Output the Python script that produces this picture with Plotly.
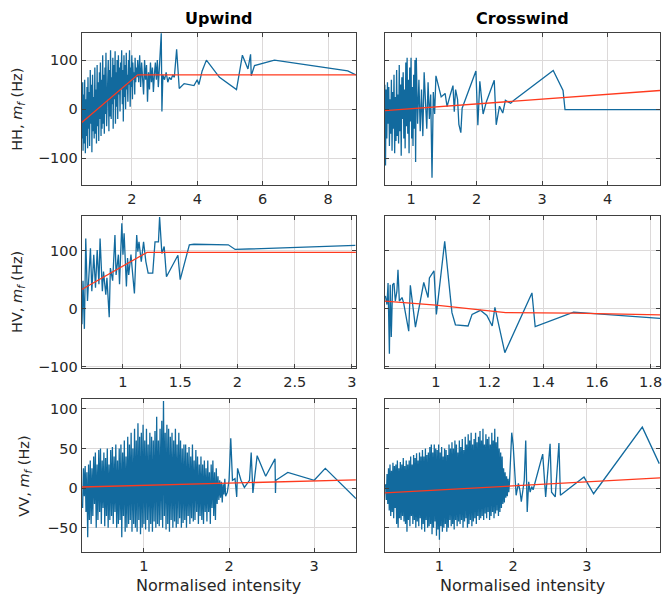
import plotly.graph_objects as go

# ---------------- DATA ----------------
# Row 1 (HH) - Upwind
hh_up_x = [0.47,0.48,0.50,0.51,0.53,0.55,0.56,0.58,0.60,0.61,0.63,0.65,0.66,0.68,0.70,0.71,0.73,0.75,0.77,0.78,
           0.80,0.82,0.83,0.85,0.87,0.89,0.90,0.92,0.94,0.95,0.97,0.99,1.01,1.02,1.04,1.06,1.07,1.09,1.11,1.13,
           1.14,1.16,1.18,1.19,1.21,1.23,1.25,1.26,1.28,1.30,1.31,1.33,1.35,1.37,1.38,1.40,1.42,1.43,1.45,1.47,
           1.49,1.50,1.52,1.54,1.55,1.57,1.59,1.61,1.62,1.64,1.66,1.67,1.69,1.71,1.73,1.74,1.76,1.78,1.79,1.81,
           1.83,1.85,1.86,1.88,1.90,1.91,1.93,1.95,1.97,1.98,2.00,2.02,2.03,2.05,2.07,2.09,2.10,2.12,2.14,2.16,
           2.18,2.21,2.24,2.27,2.30,2.33,2.36,2.39,2.42,2.45,2.48,2.51,2.54,2.57,2.60,2.63,2.66,2.69,2.72,2.75,
           2.78,2.81,2.84,2.87,2.90,2.92,2.95,3.00,3.05,3.10,3.15,3.20,3.25,3.30,3.37,3.45,3.60,3.90,4.00,4.05,
           4.15,4.28,4.68,5.20,5.38,5.55,5.63,5.65,5.75,6.36,8.30,8.60,8.85]
hh_up_y = [40,-60,55,-85,30,-70,60,-90,20,-55,45,-80,65,-40,35,-75,80,-30,50,-88,
           70,-45,25,-60,85,-50,40,-70,90,-35,55,-65,75,-20,95,-55,60,-40,110,-30,
           70,-50,85,-10,115,-35,60,0,100,-45,80,-15,120,-20,65,10,105,-40,90,20,
           118,-30,75,5,100,-20,110,30,85,-5,95,40,120,10,80,-25,110,25,90,0,
           115,40,70,15,100,50,120,5,85,45,110,20,95,60,75,30,105,55,85,65,
           100,55,110,45,95,70,30,100,60,90,15,75,40,95,55,85,35,70,95,60,
           100,45,80,100,155,-5,70,60,75,55,65,60,70,65,122,42,52,48,60,50,
           78,100,65,40,110,82,112,68,89,100,82,78,70]
hh_up_fit_x = [0.47, 2.18, 8.85]
hh_up_fit_y = [-27, 70, 70]

# Row 1 (HH) - Crosswind
hh_cr_x = [0.60,0.61,0.62,0.63,0.64,0.65,0.66,0.67,0.68,0.69,0.70,0.71,0.72,0.73,0.74,0.75,0.76,0.77,0.78,0.79,
           0.80,0.81,0.82,0.83,0.84,0.85,0.86,0.87,0.88,0.89,0.90,0.91,0.92,0.93,0.94,0.95,0.96,0.97,0.98,0.99,
           1.00,1.01,1.02,1.03,1.04,1.05,1.06,1.07,1.08,1.10,1.12,1.14,1.16,1.18,1.20,1.22,1.24,1.26,1.28,1.30,
           1.32,1.34,1.36,1.38,1.46,1.52,1.55,1.60,1.64,1.66,1.68,1.71,1.73,1.76,1.78,1.99,2.02,2.05,2.10,2.15,
           2.27,2.30,2.35,2.40,2.44,2.52,2.57,3.17,3.32,3.35,4.80]
hh_cr_y = [50,-115,40,-60,55,-30,45,-75,20,-50,60,-85,35,-40,70,-90,25,-65,80,-55,
           30,-70,90,-45,50,-95,65,-20,75,-60,40,-80,95,-35,105,-50,60,-90,85,-25,
           105,-60,45,-75,70,-40,100,-108,105,-30,60,-45,40,-55,75,10,-40,55,-20,30,
           -140,35,-10,68,25,32,5,30,48,-5,40,20,-31,-48,2,78,-33,57,-10,15,
           59,-32,6,-8,18,12,18,79,38,-1,-1]
hh_cr_fit_x = [0.60, 4.80]
hh_cr_fit_y = [-3, 38]

# Row 2 (HV) - Upwind
hv_up_x = [0.642,0.651,0.663,0.675,0.69,0.704,0.716,0.728,0.745,0.76,0.775,0.79,0.80,0.82,0.83,0.85,0.86,0.88,0.89,0.91,
           0.93,0.94,0.96,0.97,0.99,1.00,1.01,1.03,1.04,1.05,1.07,1.08,1.09,1.10,1.12,1.13,1.14,1.15,1.16,1.18,
           1.19,1.20,1.22,1.26,1.28,1.31,1.32,1.34,1.36,1.38,1.48,1.50,1.58,1.62,1.92,1.98,3.03]
hv_up_y = [-27,48,-35,121,13,61,104,30,93,36,101,42,121,30,64,24,53,-15,70,48,
           127,58,93,42,147,93,130,38,87,58,93,70,48,26,127,98,115,93,81,115,
           98,81,61,61,115,115,158,95,107,55,92,50,110,111,110,102,109]
hv_up_fit_x = [0.64, 1.21, 3.035]
hv_up_fit_y = [33, 97, 97]

# Row 2 (HV) - Crosswind
hv_cr_x = [0.812,0.818,0.822,0.827,0.830,0.834,0.839,0.844,0.849,0.855,0.859,0.864,0.874,0.880,0.899,0.905,0.924,0.955,0.971,0.976,
           0.993,1.002,1.033,1.060,1.073,1.120,1.135,1.166,1.190,1.210,1.220,1.257,1.358,1.370,1.513,1.835]
hv_cr_y = [22,7,44,-78,41,-49,41,44,13,30,67,13,19,10,-39,40,-32,45,19,53,
           65,-10,116,-7,-28,-30,-10,-3,-12,-30,2,-76,27,-31,-6,-17]
hv_cr_fit_x = [0.81, 1.00, 1.26, 1.51, 1.835]
hv_cr_fit_y = [13, 6, -7, -8, -11]

# Row 3 (VV) - Upwind
vv_up_x = [0.28,0.29,0.30,0.31,0.32,0.33,0.34,0.35,0.36,0.37,0.38,0.39,0.40,0.41,0.42,0.43,0.44,0.45,0.46,0.47,
           0.48,0.49,0.50,0.51,0.52,0.53,0.54,0.55,0.56,0.57,0.58,0.59,0.60,0.61,0.62,0.63,0.64,0.65,0.66,0.67,
           0.68,0.69,0.70,0.71,0.72,0.73,0.74,0.75,0.76,0.77,0.78,0.79,0.80,0.81,0.82,0.83,0.84,0.85,0.86,0.87,
           0.88,0.89,0.90,0.91,0.92,0.93,0.94,0.95,0.96,0.97,0.98,0.99,1.00,1.01,1.02,1.03,1.04,1.05,1.06,1.07,
           1.08,1.09,1.10,1.11,1.12,1.13,1.14,1.15,1.16,1.17,1.18,1.19,1.20,1.21,1.22,1.23,1.24,1.25,1.26,1.27,
           1.28,1.29,1.30,1.31,1.32,1.33,1.34,1.35,1.36,1.37,1.38,1.39,1.40,1.41,1.42,1.43,1.44,1.45,1.46,1.47,
           1.48,1.49,1.50,1.51,1.52,1.53,1.54,1.55,1.56,1.57,1.58,1.59,1.60,1.61,1.62,1.63,1.64,1.65,1.66,1.67,
           1.68,1.69,1.70,1.71,1.72,1.73,1.74,1.75,1.76,1.77,1.78,1.79,1.80,1.81,1.82,1.83,1.84,1.85,1.86,1.87,
           1.88,1.89,1.90,1.91,1.92,1.93,1.94,1.95,1.96,
           1.98,2.00,2.02,2.04,2.07,2.09,2.10,2.14,2.18,2.24,2.26,2.28,2.33,2.43,2.54,2.545,2.55,2.69,3.00,3.13,3.49]
vv_up_y = [-25,25,-10,28,-30,20,-62,30,-40,35,
           -45,25,-35,40,-20,45,-50,30,-40,48,
           -30,50,-45,35,-25,45,-48,38,-35,50,
           -50,30,-40,48,-35,52,-45,40,-30,55,
           -50,35,-45,50,-40,55,-62,45,-35,60,
           -55,40,-50,65,-45,55,-40,70,-55,50,
           -45,75,-50,60,-55,82,-40,65,-58,70,
           -50,80,-45,60,-52,75,-40,55,-55,70,
           -45,65,-55,60,-42,72,-50,90,-45,60,
           -48,75,-40,85,-50,110,-35,70,-52,80,
           -45,75,-55,65,-40,70,-50,60,-42,75,
           -50,55,-45,70,-38,60,-50,50,-44,55,
           -40,55,-50,45,-35,52,-45,40,-38,55,
           -42,35,-40,48,-30,40,-45,30,-35,40,
           -40,30,-45,35,-30,25,-42,35,-30,20,
           -45,30,-25,35,-35,20,-40,25,-20,15,
           -15,10,-12,8,-18,5,-8,12,-10,
           -5,10,63,10,12,-11,25,10,1,10,45,-6,41,15,37,-6,10,20,10,25,-13]
vv_up_fit_x = [0.27, 3.49]
vv_up_fit_y = [1.5, 10.5]

# Row 3 (VV) - Crosswind
vv_cr_x = [0.27,0.28,0.29,0.30,0.31,0.32,0.33,0.34,0.35,0.36,0.37,0.38,0.39,0.40,0.41,0.42,0.43,0.44,0.45,0.46,
           0.47,0.48,0.49,0.50,0.51,0.52,0.53,0.54,0.55,0.56,0.57,0.58,0.59,0.60,0.61,0.62,0.63,0.64,0.65,0.66,
           0.67,0.68,0.69,0.70,0.71,0.72,0.73,0.74,0.75,0.76,0.77,0.78,0.79,0.80,0.81,0.82,0.83,0.84,0.85,0.86,
           0.87,0.88,0.89,0.90,0.91,0.92,0.93,0.94,0.95,0.96,0.97,0.98,0.99,1.00,1.01,1.02,1.03,1.04,1.05,1.06,
           1.07,1.08,1.09,1.10,1.11,1.12,1.13,1.14,1.15,1.16,1.17,1.18,1.19,1.20,1.21,1.22,1.23,1.24,1.25,1.26,
           1.27,1.28,1.29,1.30,1.31,1.32,1.33,1.34,1.35,1.36,1.37,1.38,1.39,1.40,1.41,1.42,1.43,1.44,1.45,1.46,
           1.47,1.48,1.49,1.50,1.51,1.52,1.53,1.54,1.55,1.56,1.57,1.58,1.59,1.60,1.61,1.62,1.63,1.64,1.65,1.66,
           1.67,1.68,1.69,1.70,1.71,1.72,1.73,1.74,1.75,1.76,1.77,1.78,1.79,1.80,1.81,1.82,1.83,1.84,1.85,1.86,
           1.87,1.88,1.89,1.90,1.91,1.92,1.93,1.94,1.95,
           1.98,2.00,2.04,2.07,2.09,2.11,2.13,2.15,2.17,2.19,2.21,2.23,2.25,2.27,2.40,2.44,2.50,2.52,2.57,2.62,
           2.64,2.96,3.09,3.75,3.98]
vv_cr_y = [5,-15,18,-20,25,-28,30,-35,22,-30,
           32,-38,28,-25,30,-45,35,-50,25,-38,
           33,-40,30,-35,38,-42,28,-45,35,-55,
           30,-40,35,-48,40,-35,30,-45,42,-40,
           38,-50,44,-42,35,-48,45,-38,40,-52,
           48,-45,40,-55,50,-40,42,-50,45,-48,
           52,-45,55,-58,45,-50,55,-42,50,-60,
           48,-52,55,-65,45,-48,52,-55,40,-50,
           50,-45,48,-55,42,-50,55,-40,50,-48,
           58,-45,50,-52,60,-40,55,-48,45,-42,
           60,-45,52,-40,62,-50,48,-42,65,-38,
           55,-50,68,-45,60,-40,70,-48,55,-42,
           62,-38,70,-45,58,-35,65,-40,72,-38,
           60,-35,75,-40,55,-32,68,-38,62,-30,
           65,-40,55,-35,70,-30,60,-38,75,-32,
           58,-28,65,-35,50,-30,45,-25,40,-20,
           25,-18,20,-12,15,-10,12,-5,8,
           70,54,-9,6,-2,-17,-5,10,60,-30,8,-5,2,-2,43,-11,56,-5,-11,57,
           -9,14,-7,77,31]
vv_cr_fit_x = [0.26, 3.99]
vv_cr_fit_y = [-6, 13]

# axis settings (ranges & ticks)
x_ranges = [[0.47, 8.85], [0.6, 4.8], [0.64, 3.035], [0.81, 1.835], [0.27, 3.49], [0.26, 3.99]]
x_ticks = [[2, 4, 6, 8], [1, 2, 3, 4], [1, 1.5, 2, 2.5, 3], [1, 1.2, 1.4, 1.6, 1.8], [1, 2, 3], [1, 2, 3]]
y_ranges = [[-155, 156], [-155, 156], [-103, 160], [-103, 160], [-81, 112.5], [-81, 112.5]]
y_ticks = [[-100, 0, 100], [-100, 0, 100], [-100, 0, 100], [-100, 0, 100], [-50, 0, 50, 100], [-50, 0, 50, 100]]
col_titles = ["Upwind", "Crosswind"]
row_labels = ["HH", "HV", "VV"]
x_title = "Normalised intensity"

# ---------------- FIGURE ----------------
W, H = 663, 601
BLUE = "#126a9e"
RED = "#ff3a1e"
FONT = "DejaVu Sans, Liberation Sans, Arial, sans-serif"
TXT = "#262626"

panels = [
    (hh_up_x, hh_up_y, hh_up_fit_x, hh_up_fit_y),
    (hh_cr_x, hh_cr_y, hh_cr_fit_x, hh_cr_fit_y),
    (hv_up_x, hv_up_y, hv_up_fit_x, hv_up_fit_y),
    (hv_cr_x, hv_cr_y, hv_cr_fit_x, hv_cr_fit_y),
    (vv_up_x, vv_up_y, vv_up_fit_x, vv_up_fit_y),
    (vv_cr_x, vv_cr_y, vv_cr_fit_x, vv_cr_fit_y),
]

col_px = [(82, 357), (386, 662)]
row_px = [(33, 187), (218, 372), (403, 558)]

fig = go.Figure()
layout = {}
for i, (bx, by, rx, ry) in enumerate(panels):
    n = i + 1
    r, c = divmod(i, 2)
    xa = "x" if n == 1 else f"x{n}"
    ya = "y" if n == 1 else f"y{n}"
    fig.add_trace(go.Scatter(x=bx, y=by, mode="lines", line=dict(color=BLUE, width=1.3),
                             xaxis=xa, yaxis=ya, showlegend=False, hoverinfo="skip"))
    fig.add_trace(go.Scatter(x=rx, y=ry, mode="lines", line=dict(color=RED, width=1.3),
                             xaxis=xa, yaxis=ya, showlegend=False, hoverinfo="skip"))
    common = dict(showline=True, linecolor="#404040", linewidth=1.2, mirror="ticks",
                  ticks="inside", ticklen=4, tickcolor="#404040", showgrid=True,
                  gridcolor="#dcd9d9", gridwidth=1, zeroline=False,
                  tickfont=dict(family=FONT, size=14.5, color=TXT))
    xk = "xaxis" if n == 1 else f"xaxis{n}"
    yk = "yaxis" if n == 1 else f"yaxis{n}"
    layout[xk] = dict(common, domain=[col_px[c][0] / W, col_px[c][1] / W], range=x_ranges[i],
                      tickvals=x_ticks[i], anchor=ya, ticklabeloverflow="allow")
    layout[yk] = dict(common, domain=[1 - row_px[r][1] / H, 1 - row_px[r][0] / H], range=y_ranges[i],
                      tickvals=y_ticks[i], anchor=xa, showticklabels=(c == 0))

annotations = []
for c, t in enumerate(col_titles):
    annotations.append(dict(text="<b>%s</b>" % t, x=(col_px[c][0] + col_px[c][1]) / 2 / W, y=1 - 19 / H,
                            xref="paper", yref="paper", showarrow=False, xanchor="center", yanchor="middle",
                            font=dict(family=FONT, size=16, color="#000000")))
    annotations.append(dict(text=x_title, x=(col_px[c][0] + col_px[c][1]) / 2 / W, y=1 - 591 / H,
                            xref="paper", yref="paper", showarrow=False, xanchor="center", yanchor="middle",
                            font=dict(family=FONT, size=16, color=TXT)))
label_x = [18, 18, 25]
for r, lab in enumerate(row_labels):
    annotations.append(dict(text="%s, <i>m</i><sub><i>f</i></sub> (Hz)" % lab,
                            x=label_x[r] / W, y=1 - (row_px[r][0] + row_px[r][1]) / 2 / H,
                            xref="paper", yref="paper", showarrow=False, textangle=-90,
                            xanchor="center", yanchor="middle",
                            font=dict(family=FONT, size=14.5, color=TXT)))

fig.update_layout(width=W, height=H, margin=dict(l=0, r=0, t=0, b=0),
                  paper_bgcolor="white", plot_bgcolor="white",
                  annotations=annotations, **layout)
fig.write_html("out.html")
